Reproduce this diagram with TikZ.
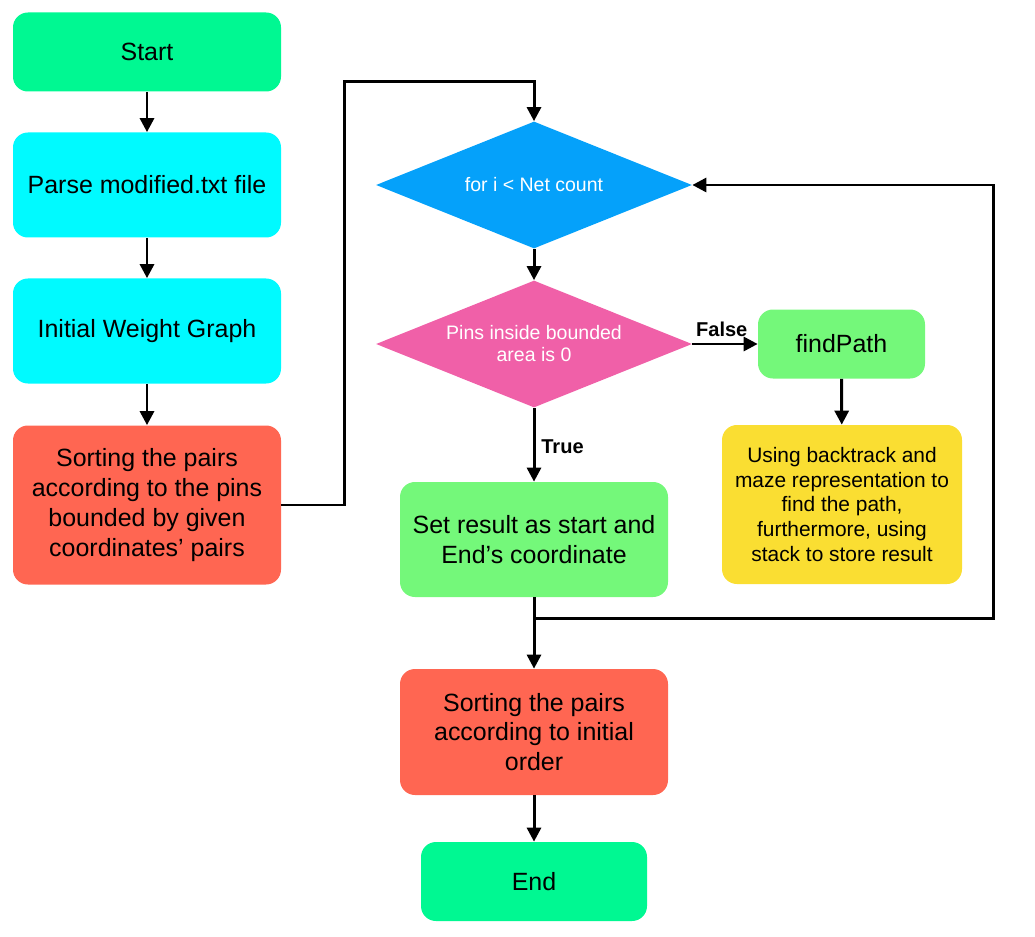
\documentclass[tikz,border=0pt]{standalone}
\usepackage{fontspec}
\setmainfont{Liberation Sans}
\usepackage{tikz}
\usetikzlibrary{
  arrows.meta,
  positioning,
  calc,
  shapes.geometric
}

\definecolor{startgreen}{RGB}{0,248,146}
\definecolor{parsecyan}{RGB}{0,250,255}
\definecolor{sorttomato}{RGB}{255,102,82}
\definecolor{loopblue}{RGB}{5,161,250}
\definecolor{condpink}{RGB}{240,96,168}
\definecolor{pathgreen}{RGB}{116,248,122}
\definecolor{noteyellow}{RGB}{250,222,50}

\begin{document}
\begin{tikzpicture}[
      >={Triangle[length=8pt,width=8pt]},
      block/.style={rounded corners=8.5pt, minimum width=5.36cm, align=center,
                    font=\fontsize{14.2}{17}\selectfont},
      decision/.style={diamond, aspect=2.49, minimum width=6.32cm, minimum height=2.54cm,
                       inner sep=0pt, align=center, text=white,
                       font=\fontsize{11.1}{12.5}\selectfont},
      branch/.style={font=\bfseries\fontsize{11.4}{13}\selectfont},
      flow/.style={->, line width=1.7pt}
  ]
      \useasboundingbox (0,0) rectangle (20.7,18.72);

      % Coluna da esquerda: leitura e preparo
      \node[block, fill=startgreen, minimum height=1.58cm] (start) at (2.94,17.68) {Start};
      \node[block, fill=parsecyan, minimum height=2.10cm] (parse) at (2.94,15.02) {Parse modified.txt file};
      \node[block, fill=parsecyan, minimum height=2.10cm] (weight) at (2.94,12.10) {Initial Weight Graph};
      \node[block, fill=sorttomato, minimum height=3.18cm] (sortpins) at (2.94,8.62)
            {Sorting the pairs\\according to the pins\\bounded by given\\coordinates' pairs};

      % Laço sobre as nets
      \node[decision, fill=loopblue] (loop) at (10.68,15.02) {for i < Net count};
      \node[decision, fill=condpink] (cond) at (10.68,11.84) {Pins inside bounded\\area is 0};
      \node[block, fill=pathgreen, minimum width=3.34cm, minimum height=1.38cm] (findpath)
            at (16.83,11.84) {findPath};
      \node[block, fill=noteyellow, minimum width=4.80cm, minimum height=3.18cm,
            font=\fontsize{11.9}{14.2}\selectfont] (note) at (16.84,8.63)
            {Using backtrack and\\maze representation to\\find the path,\\furthermore, using\\stack to store result};
      \node[block, fill=pathgreen, minimum height=2.30cm] (setres) at (10.68,7.93)
            {Set result as start and\\End's coordinate};

      % Saída
      \node[block, fill=sorttomato, minimum height=2.52cm] (sortorder) at (10.68,4.08)
            {Sorting the pairs\\according to initial\\order};
      \node[block, fill=startgreen, minimum width=4.52cm, minimum height=1.58cm] (end) at (10.68,1.09) {End};

      % Setas
      \draw[flow] (start) -- (parse);
      \draw[flow] (parse) -- (weight);
      \draw[flow] (weight) -- (sortpins);
      \draw[flow] (sortpins.east) -- ++(1.26,0) |- ($(loop.north)+(0,0.8)$) -- (loop.north);
      \draw[flow] (loop) -- (cond);
      \draw[flow] (cond) -- node[branch, above, pos=0.45] {False} (findpath);
      \draw[flow] (findpath) -- (note);
      \draw[flow] (cond) -- node[branch, right, pos=0.53] {True} (setres);
      \draw[flow] (setres) -- (sortorder);
      \coordinate (back) at ($(setres.south)+(0,-0.42)$);
      \draw[flow] (back) -- ++(9.18,0) |- (loop.east);
      \draw[flow] (sortorder) -- (end);
  \end{tikzpicture}
\end{document}
